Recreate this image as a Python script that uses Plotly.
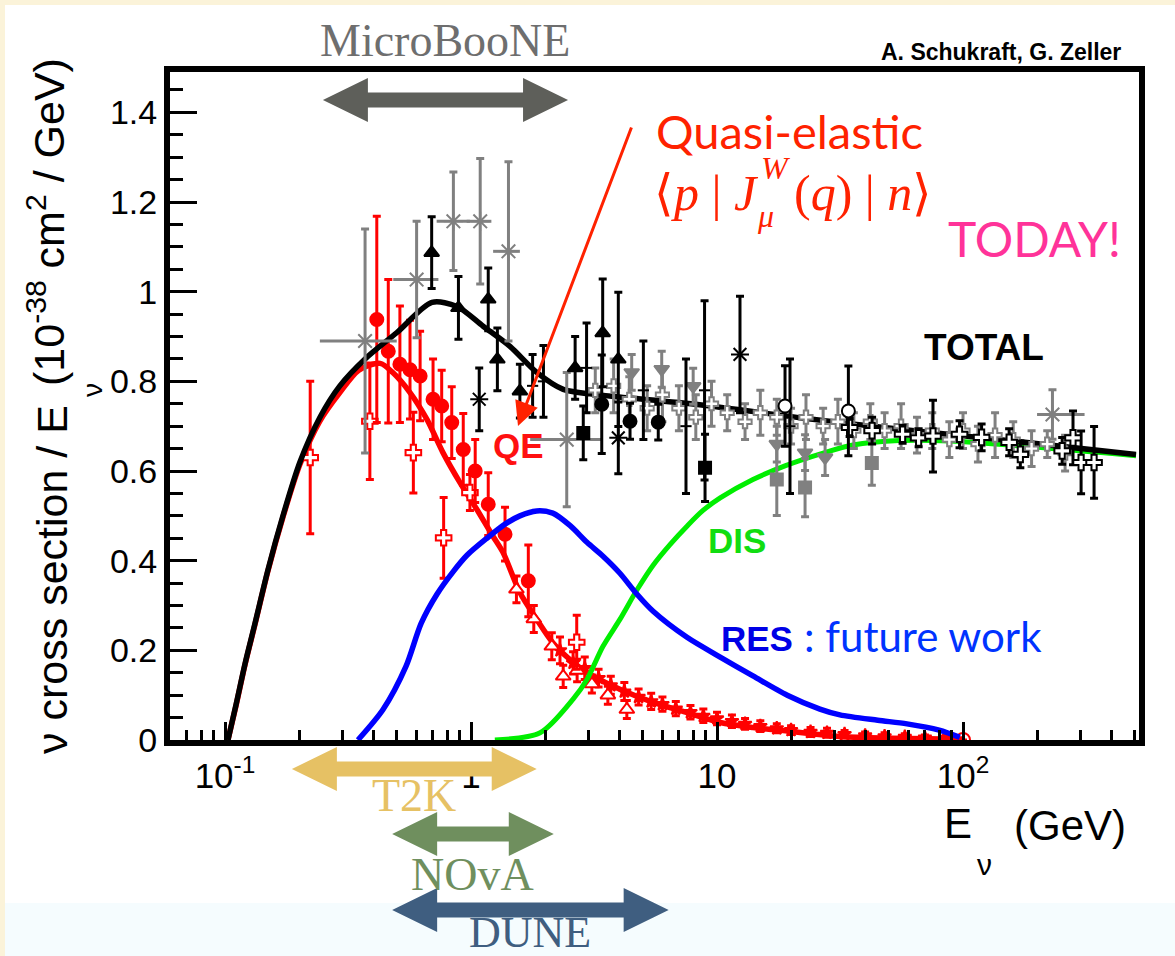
import math
import plotly.graph_objects as go

# ---------------- page / frame geometry ----------------
W, H = 1175, 956
PL, PR, PT, PB = 170, 1139, 72, 740          # plot interior in page pixels
X_LO, X_HI = -1.2236, 2.7154                 # log10(E / GeV)
Y_LO, Y_HI = 0.0, 1.49


def fx(px):
    return (px - PL) / (PR - PL)


def fy(py):
    return (PB - py) / (PB - PT)


def e2px(E):
    return PL + (math.log10(E) - X_LO) / (X_HI - X_LO) * (PR - PL)


# ---------------- theory curves (E in GeV, sigma/E in 1e-38 cm^2/GeV) ----------------
tot_E = [0.1028, 0.111, 0.1206, 0.1324, 0.1496, 0.172, 0.2017, 0.2433, 0.293, 0.371, 0.50,
         0.694, 0.877, 1.12, 1.44, 1.85, 2.37, 3.05, 4.0, 8.5, 21.7, 55.5, 141, 505]
tot_s = [0.0, 0.08, 0.17, 0.26, 0.38, 0.50, 0.62, 0.72, 0.79, 0.85, 0.909,
         0.976, 0.967, 0.923, 0.878, 0.820, 0.782, 0.772, 0.765, 0.748, 0.719, 0.693, 0.670, 0.637]

qe_E = [0.1028, 0.111, 0.1206, 0.1324, 0.1496, 0.172, 0.2017, 0.2433, 0.293, 0.35, 0.427,
        0.482, 0.565, 0.662, 0.769, 0.902, 1.057, 1.23, 1.35, 1.58, 1.85, 2.15, 2.53, 2.96,
        4.03, 5.5, 7.55, 10.3, 14.0, 19.3, 31.6, 100]
qe_s = [0.0, 0.078, 0.168, 0.258, 0.378, 0.497, 0.615, 0.712, 0.775, 0.825, 0.840,
        0.819, 0.775, 0.715, 0.641, 0.574, 0.514, 0.454, 0.418, 0.329, 0.269, 0.217, 0.179, 0.151,
        0.113, 0.084, 0.061, 0.039, 0.028, 0.020, 0.008, 0.002]

res_E = [0.347, 0.439, 0.544, 0.627, 0.727, 0.845, 0.963, 1.16, 1.38, 1.58, 1.85, 2.15, 2.53,
         2.96, 3.44, 4.03, 4.73, 5.5, 7.55, 10.3, 14.0, 19.3, 26.2, 31.6, 45, 59.2, 80, 97]
res_s = [0.0, 0.068, 0.164, 0.260, 0.325, 0.375, 0.412, 0.450, 0.482, 0.500, 0.511, 0.506, 0.478,
         0.441, 0.410, 0.372, 0.325, 0.287, 0.229, 0.185, 0.143, 0.100, 0.069, 0.056, 0.044, 0.036,
         0.022, 0.006]

dis_E = [1.25, 1.91, 2.60, 2.96, 3.44, 4.03, 4.73, 5.5, 6.44, 7.55, 8.77, 10.3, 14.0, 19.0,
         27.0, 35.7, 55, 88.5, 505]
dis_s = [0.0, 0.016, 0.091, 0.135, 0.209, 0.269, 0.335, 0.390, 0.436, 0.477, 0.512, 0.540, 0.581,
         0.612, 0.640, 0.658, 0.668, 0.667, 0.634]

# ---------------- measurements ----------------
# red: quasi-elastic data
rc_E = [0.414, 0.461, 0.514, 0.565, 0.621, 0.701, 0.760, 0.835, 0.93, 1.04, 1.175, 1.375, 1.71]
rc_s = [0.938, 0.867, 0.838, 0.826, 0.812, 0.760, 0.745, 0.708, 0.648, 0.600, 0.526, 0.459, 0.355]
rc_err = [0.23, 0.16, 0.13, 0.11, 0.10, 0.09, 0.08, 0.08, 0.08, 0.07, 0.07, 0.06, 0.08]

ro_E = [0.222, 0.388, 0.583, 0.774, 0.99, 2.69]
ro_s = [0.630, 0.711, 0.641, 0.451, 0.552, 0.218]
ro_err = [0.17, 0.13, 0.09, 0.09, 0.04, 0.06]

rt_E = [1.53, 1.8, 2.13, 2.37, 2.7, 3.1, 3.6, 4.3]
rt_s = [0.336, 0.27, 0.209, 0.142, 0.155, 0.125, 0.100, 0.068]
rt_err = [0.03, 0.03, 0.03, 0.025, 0.025, 0.02, 0.02, 0.02]

rs_E = [2.3, 2.6, 2.9, 3.3, 3.7, 4.2, 4.8, 5.4, 6.0, 6.8, 7.8, 8.8, 10, 11.5, 13, 15, 17.5,
        20, 24, 28, 33, 40, 48, 58, 70, 85]
rs_s = [0.200, 0.172, 0.160, 0.138, 0.122, 0.108, 0.096, 0.086, 0.080, 0.070, 0.062, 0.054, 0.048,
        0.042, 0.036, 0.031, 0.026, 0.022, 0.018, 0.016, 0.013, 0.010, 0.008, 0.007, 0.005, 0.004]
rs_err = [0.03, 0.025, 0.025, 0.02, 0.02, 0.02, 0.018, 0.018, 0.016, 0.016, 0.015, 0.015, 0.014,
          0.014, 0.012, 0.012, 0.01, 0.01, 0.01, 0.01, 0.008, 0.008, 0.008, 0.007, 0.006, 0.006]

rend_E = [100]
rend_s = [0.0]

# black: total cross section data
bt_E = [0.692, 0.889, 1.175, 1.28, 1.58, 2.65, 3.43, 3.97]
bt_s = [1.087, 0.964, 0.983, 0.849, 0.778, 0.830, 0.908, 0.849]
bt_err = [0.08, 0.07, 0.07, 0.07, 0.06, 0.07, 0.12, 0.15]

bc_E = [3.40, 4.43, 5.77]
bc_s = [0.749, 0.711, 0.709]
bc_err = [0.11, 0.04, 0.04]

bs_E = [1.08, 3.97, 12.4]
bs_s = [0.760, 0.674, 0.860]
bs_err = [0.07, 0.08, 0.13]

bq_E = [2.86, 8.94]
bq_s = [0.685, 0.607]
bq_err = [0.06, 0.075]

bo_E = [18.9, 34.2]
bo_s = [0.745, 0.734]
bo_err = [0.09, 0.10]

bb_E = [1.78, 1.97, 2.95, 5.02, 7.48, 8.9, 19.8]
bb_s = [0.79, 0.80, 0.83, 0.78, 0.70, 0.78, 0.70]
bb_err = [0.07, 0.08, 0.10, 0.11, 0.15, 0.20, 0.15]

bx_E = [34.6, 42.7, 56.8, 66, 75.5, 96.8, 119, 154, 171, 253, 280, 302, 341]
bx_s = [0.697, 0.690, 0.682, 0.674, 0.678, 0.682, 0.675, 0.664, 0.637, 0.645, 0.674, 0.619, 0.619]
bx_err = [0.02, 0.03, 0.02, 0.02, 0.08, 0.03, 0.03, 0.03, 0.03, 0.03, 0.06, 0.07, 0.08]

# gray: other total cross section data
gs_E = [0.371, 0.601, 0.848, 1.09, 1.42, 2.45, 231]
gs_s = [0.890, 1.027, 1.157, 1.157, 1.09, 0.670, 0.726]
gs_err = [0.25, 0.13, 0.11, 0.14, 0.20, 0.15, 0.055]
gs_lo = [0.243, 0.483, 0.725, 0.96, 1.23, 1.74, 200]
gs_hi = [0.499, 0.737, 0.99, 1.21, 1.58, 3.4, 312]

gd_E = [4.5, 5.96, 8.0, 17.5, 22.8, 27.5]
gd_s = [0.82, 0.827, 0.789, 0.66, 0.641, 0.63]
gd_err = [0.04, 0.04, 0.04, 0.04, 0.04, 0.04]

gq_E = [17.5, 22.8, 42.6]
gq_s = [0.581, 0.563, 0.618]
gq_err = [0.08, 0.065, 0.05]

gb_E = [3.2, 3.8, 4.4, 5.2, 6.0, 7.0, 8.2, 9.5, 11, 13, 15, 17.5, 20, 23, 27, 31, 36, 42, 48, 56,
        65, 75, 88, 100, 115, 135, 160, 190, 220, 260]
gb_s = [0.78, 0.79, 0.76, 0.74, 0.77, 0.74, 0.72, 0.75, 0.73, 0.71, 0.73, 0.72, 0.70, 0.72, 0.70,
        0.71, 0.69, 0.71, 0.69, 0.70, 0.68, 0.69, 0.67, 0.69, 0.66, 0.68, 0.67, 0.65, 0.66, 0.64]
gb_err = [0.05, 0.06, 0.05, 0.05, 0.06, 0.05, 0.05, 0.05, 0.04, 0.04, 0.05, 0.04, 0.04, 0.05, 0.04,
          0.05, 0.04, 0.04, 0.04, 0.05, 0.04, 0.04, 0.04, 0.04, 0.04, 0.05, 0.04, 0.04, 0.03, 0.04]

# ---------------- experiments' energy coverage ----------------
exp_names = ["MicroBooNE", "T2K", "NOvA", "DUNE"]
exp_lo = [0.25, 0.187, 0.478, 0.478]
exp_hi = [2.48, 1.85, 2.17, 6.36]
exp_colors = ["#5e5f5a", "#e6c164", "#6f8f5e", "#3f5e80"]
exp_label_colors = ["#6e6e6e", "#e6c164", "#6f8f5e", "#3f5e80"]
exp_arrow_y = [100, 769, 834, 910]
exp_label_y = [40, 795, 874, 932]
exp_label_size = [46, 46, 46, 44]

# ---------------- axis ticks ----------------
x_tickvals = [0.1, 1, 10, 100]
x_ticktext = ["10<sup>-1</sup>", "1", "10", "10<sup>2</sup>"]
x_minor = [0.06, 0.07, 0.08, 0.09, 0.2, 0.3, 0.4, 0.5, 0.6, 0.7, 0.8, 0.9,
           2, 3, 4, 5, 6, 7, 8, 9, 20, 30, 40, 50, 60, 70, 80, 90, 200, 300, 400, 500]

fig = go.Figure()


def curve(E, s, color, width=5.5):
    fig.add_trace(go.Scatter(x=E, y=s, mode="lines",
                             line=dict(color=color, width=width, shape="spline", smoothing=0.8),
                             hoverinfo="skip", showlegend=False))


def points(E, s, err, color, symbol, size, fill=None, lw=2, lo=None, hi=None):
    ex = None
    if lo is not None:
        ex = dict(type="data", symmetric=False,
                  array=[h - e for h, e in zip(hi, E)],
                  arrayminus=[e - l for e, l in zip(E, lo)],
                  color=color, thickness=3, width=0)
    fig.add_trace(go.Scatter(
        x=E, y=s, mode="markers",
        marker=dict(symbol=symbol, size=size, color=fill if fill else color,
                    line=dict(color=color, width=lw)),
        error_y=dict(type="data", array=err, color=color, thickness=3, width=4),
        error_x=ex, hoverinfo="skip", showlegend=False))


RED, BLK, GRY = "#ff0000", "#000000", "#808080"

curve(qe_E, qe_s, RED)
points(rs_E, rs_s, rs_err, RED, "star", 10)
points(rt_E, rt_s, rt_err, RED, "triangle-up", 13, fill="white")
points(ro_E, ro_s, ro_err, RED, "cross", 13, fill="white")
points(rc_E, rc_s, rc_err, RED, "circle", 13)
points(rend_E, rend_s, [0], RED, "circle-open", 14)
curve(dis_E, dis_s, "#00ee00", 5)
curve(tot_E, tot_s, BLK)
points(gb_E, gb_s, gb_err, GRY, "cross", 11, fill="white")
points(gq_E, gq_s, gq_err, GRY, "square", 12)
points(gd_E, gd_s, gd_err, GRY, "triangle-down", 13)
points(gs_E, gs_s, gs_err, GRY, "asterisk-open", 16, lo=gs_lo, hi=gs_hi)
points(bb_E, bb_s, bb_err, BLK, "line-ew-open", 8)
points(bx_E, bx_s, bx_err, BLK, "cross", 13, fill="white")
points(bo_E, bo_s, bo_err, BLK, "circle", 13, fill="white")
points(bq_E, bq_s, bq_err, BLK, "square", 12)
points(bs_E, bs_s, bs_err, BLK, "asterisk-open", 15)
points(bc_E, bc_s, bc_err, BLK, "circle", 13)
points(bt_E, bt_s, bt_err, BLK, "triangle-up", 13)
curve(res_E, res_s, "#0000ff", 5.5)

# ---------------- page background ----------------
shapes = [
    dict(type="rect", xref="paper", yref="paper", x0=fx(5), x1=fx(W), y0=fy(5), y1=fy(H),
         fillcolor="#ffffff", line=dict(width=0), layer="below"),
    dict(type="rect", xref="paper", yref="paper", x0=fx(5), x1=fx(W), y0=fy(903), y1=fy(H),
         fillcolor="#f5fcfe", line=dict(width=0), layer="below"),
]


def double_arrow(x0, x1, yc, head=45, half=22, shaft=7.5):
    pts = [(x0, yc), (x0 + head, yc - half), (x0 + head, yc - shaft), (x1 - head, yc - shaft),
           (x1 - head, yc - half), (x1, yc), (x1 - head, yc + half), (x1 - head, yc + shaft),
           (x0 + head, yc + shaft), (x0 + head, yc + half)]
    return "M " + " L ".join(f"{fx(a):.5f},{fy(b):.5f}" for a, b in pts) + " Z"


annotations = []
for name, lo, hi, col, lcol, ay, ly, ls in zip(exp_names, exp_lo, exp_hi, exp_colors,
                                               exp_label_colors, exp_arrow_y, exp_label_y,
                                               exp_label_size):
    x0, x1 = e2px(lo), e2px(hi)
    shapes.append(dict(type="path", xref="paper", yref="paper", path=double_arrow(x0, x1, ay),
                       fillcolor=col, line=dict(width=0), layer="above"))
    annotations.append(dict(text=name, xref="paper", yref="paper", x=fx((x0 + x1) / 2), y=fy(ly),
                            xanchor="center", yanchor="middle", showarrow=False,
                            font=dict(family="Liberation Serif", size=ls, color=lcol)))

SANS = "Liberation Sans"
HUM = "Lato"


def note(text, px, py, size, color, family=SANS, xa="center", ya="middle", angle=0):
    annotations.append(dict(text=text, xref="paper", yref="paper", x=fx(px), y=fy(py),
                            xanchor=xa, yanchor=ya, showarrow=False, textangle=angle,
                            font=dict(family=family, size=size, color=color)))


# axis titles
note("ν cross section / E", 52, 580, 43, "black", angle=-90)
note("ν", 92, 390, 28, "black", angle=-90)
note("(10<sup>-38</sup> cm<sup>2</sup> / GeV)", 46, 222, 43, "black", angle=-90)
note("E", 958, 823, 42, "black")
note("ν", 984, 864, 30, "black")
note("(GeV)", 1070, 825, 42, "black")

# in-plot labels
note("<b>A. Schukraft, G. Zeller</b>", 1001, 52, 23, "black")
note("<b>TOTAL</b>", 984, 347, 37, "black")
note("<b>QE</b>", 518, 445, 35, "#ff1010")
note("<b>DIS</b>", 737, 540, 35, "#11dd11")
note("<b>RES</b>", 757, 638, 35, "#0000e6")
note(": future work", 802, 636, 42, "#0033ff", family=HUM, xa="left")
note("Quasi-elastic", 654, 131, 47, "#ff2200", family=HUM, xa="left")
note("⟨<i>p</i> | <i>J</i>", 652, 193, 50, "#ff2200", family="Liberation Serif", xa="left")
note("<i>W</i>", 759, 168, 32, "#ff2200", family="Liberation Serif", xa="left")
note("<i>μ</i>", 755, 216, 32, "#ff2200", family="Liberation Serif", xa="left")
note("(<i>q</i>) | <i>n</i>⟩", 792, 193, 50, "#ff2200", family="Liberation Serif", xa="left")
note("TODAY!", 946, 238, 48, "#ff3399", family=HUM, xa="left")

# pointer from the quasi-elastic label to the QE curve
annotations.append(dict(text="", xref="paper", yref="paper", x=fx(518), y=fy(426),
                        ax=632 - 518, ay=126 - 426, axref="pixel", ayref="pixel",
                        showarrow=True, arrowhead=2, arrowsize=1.6, arrowwidth=3,
                        arrowcolor="#ff2200"))

fig.update_layout(
    width=W, height=H,
    margin=dict(l=PL, r=W - PR, t=PT, b=H - PB, pad=0),
    paper_bgcolor="#fbf3d9", plot_bgcolor="rgba(0,0,0,0)",
    shapes=shapes, annotations=annotations, showlegend=False,
    xaxis=dict(type="log", range=[X_LO, X_HI], showgrid=False, zeroline=False,
               showline=True, linewidth=6, linecolor="black", mirror=True,
               ticks="inside", ticklen=18, tickwidth=3, tickcolor="black",
               tickmode="array", tickvals=x_tickvals, ticktext=x_ticktext,
               tickfont=dict(family=SANS, size=35, color="black"), ticklabelstandoff=0,
               minor=dict(tickvals=x_minor, ticks="inside", ticklen=10, tickwidth=3,
                          tickcolor="black", showgrid=False)),
    yaxis=dict(range=[Y_LO, Y_HI], showgrid=False, zeroline=False,
               showline=True, linewidth=6, linecolor="black", mirror=True,
               ticks="inside", ticklen=27, tickwidth=3, tickcolor="black",
               tickmode="linear", tick0=0, dtick=0.2,
               tickfont=dict(family=SANS, size=34, color="black"),
               minor=dict(dtick=0.05, ticks="inside", ticklen=13, tickwidth=3,
                          tickcolor="black", showgrid=False)),
)

fig.write_html("out.html")
